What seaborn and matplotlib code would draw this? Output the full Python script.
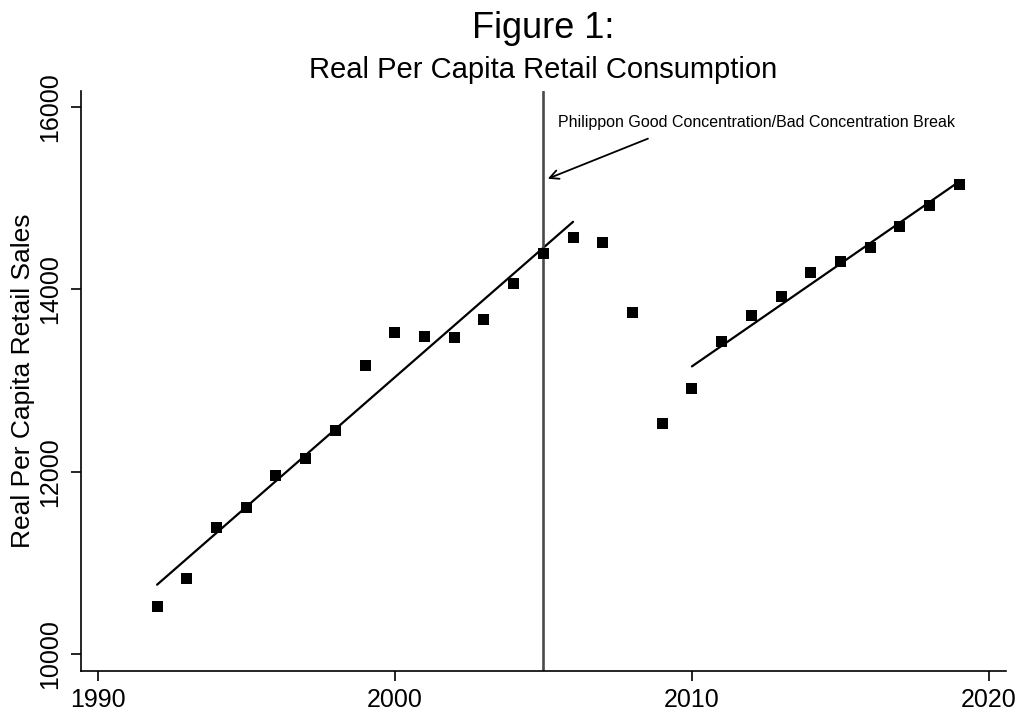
import matplotlib
matplotlib.use("Agg")
import matplotlib.pyplot as plt
import seaborn as sns
import pandas as pd

# Annual real per capita retail sales
years = list(range(1992, 2020))
sales = [10526, 10832, 11391, 11610, 11960, 12147, 12453, 13165, 13527, 13483,
         13472, 13669, 14064, 14392, 14567, 14513, 13746, 12530, 12913, 13428,
         13713, 13921, 14184, 14304, 14458, 14688, 14918, 15148]

# Periods used for the two linear trend fits
fit1_years = (1992, 2006)
fit2_years = (2010, 2019)
break_year = 2005

x_ticks = [1990, 2000, 2010, 2020]
y_ticks = [10000, 12000, 14000, 16000]

df = pd.DataFrame({"year": years, "sales": sales})
seg1 = df[(df.year >= fit1_years[0]) & (df.year <= fit1_years[1])]
seg2 = df[(df.year >= fit2_years[0]) & (df.year <= fit2_years[1])]

sns.set_style("ticks")
plt.rcParams["font.family"] = ["Liberation Sans", "DejaVu Sans"]
plt.rcParams.update({
    "text.color": "black",
    "axes.labelcolor": "black",
    "xtick.color": "black",
    "ytick.color": "black",
})

fig = plt.figure(figsize=(10.21, 7.15), dpi=100)
ax = fig.add_axes([81 / 1021, 1 - 670.7 / 715, (1005.7 - 81) / 1021, (670.7 - 91) / 715])

sns.scatterplot(data=df, x="year", y="sales", marker="s", s=64, color="black",
                edgecolor="none", ax=ax, zorder=3)
sns.regplot(data=seg1, x="year", y="sales", scatter=False, ci=None, ax=ax,
            line_kws={"color": "black", "lw": 1.6})
sns.regplot(data=seg2, x="year", y="sales", scatter=False, ci=None, ax=ax,
            line_kws={"color": "black", "lw": 1.6})

ax.axvline(break_year, color="#4a4a4a", lw=1.9, zorder=2)

ax.annotate("", xy=(2005.15, 15211), xytext=(2008.52, 15650),
            arrowprops=dict(arrowstyle="->", color="black", lw=1.3,
                            mutation_scale=16, shrinkA=0, shrinkB=0))
ax.text(2005.5, 15825, "Philippon Good Concentration/Bad Concentration Break",
        fontsize=11.5, va="center", ha="left", color="black")

ax.set_xlim(1989.44, 2020.56)
ax.set_ylim(9820, 16172)
ax.set_xticks(x_ticks)
ax.set_yticks(y_ticks)
ax.set_xticklabels([str(t) for t in x_ticks], fontsize=18)
ax.set_yticklabels([str(t) for t in y_ticks], fontsize=18, rotation=90, va="center")
ax.tick_params(axis="both", length=7.5, width=1.2, color="black", labelcolor="black")
ax.tick_params(axis="x", pad=5)
ax.tick_params(axis="y", pad=6)
ax.set_xlabel("")
ax.set_ylabel("Real Per Capita Retail Sales", fontsize=19, labelpad=2, color="black")

for side in ["top", "right"]:
    ax.spines[side].set_visible(False)
for side in ["left", "bottom"]:
    ax.spines[side].set_color("black")
    ax.spines[side].set_linewidth(1.2)

fig.text(543 / 1021, 1 - 28 / 715, "Figure 1:", fontsize=26, ha="center",
         va="center", color="black")
fig.text(543 / 1021, 1 - 70 / 715, "Real Per Capita Retail Consumption", fontsize=21,
         ha="center", va="center", color="black")

fig.savefig("out.png", dpi=100, facecolor="white")
